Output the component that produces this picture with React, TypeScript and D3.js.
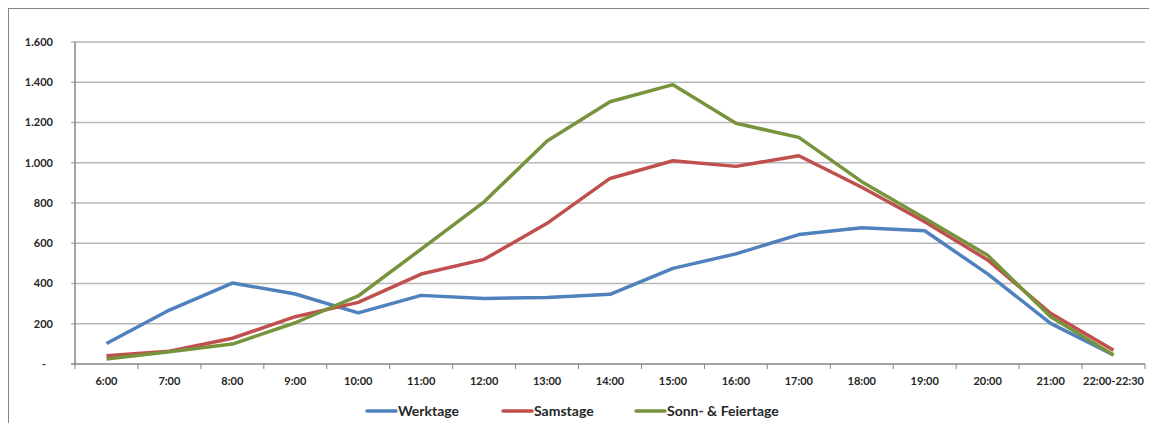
import React from "react";
import * as d3 from "d3";

const categories = ["6:00","7:00","8:00","9:00","10:00","11:00","12:00","13:00","14:00","15:00","16:00","17:00","18:00","19:00","20:00","21:00","22:00-22:30"];
const werktage = [102, 268, 402, 348, 254, 341, 326, 331, 346, 475, 547, 643, 677, 662, 448, 202, 45];
const samstage = [41, 63, 128, 235, 306, 447, 520, 699, 922, 1010, 982, 1035, 878, 707, 517, 252, 68];
const sonntage = [25, 61, 99, 205, 338, 571, 806, 1108, 1303, 1388, 1196, 1126, 906, 724, 540, 235, 45];
const yTicks = [0, 200, 400, 600, 800, 1000, 1200, 1400, 1600];
const seriesNames = ["Werktage", "Samstage", "Sonn- & Feiertage"];
const colors = ["#4F81BD", "#C0504D", "#77933C"];

const W = 1149, H = 423;
const left = 75, right = 1145, top = 42, bottom = 364;
const font = "Lato, 'Open Sans', sans-serif";

export default function App() {
  const x = d3.scaleBand().domain(categories).range([left, right]);
  const y = d3.scaleLinear().domain([0, 1600]).range([bottom, top]);
  const fmt = (v: number) => (v === 0 ? "-" : d3.format(",")(v).replace(/,/g, "."));
  const line = d3.line<number>().x((_, i) => (x(categories[i]) as number) + x.bandwidth() / 2).y((v) => y(v));
  const series = [werktage, samstage, sonntage];
  const legendX = [367, 503, 636];
  return (
    <svg width={W} height={H} style={{ position: "absolute", left: 0, top: 0, background: "#fff" }} fontFamily={font}>
      <rect x={8.5} y={8.5} width={W + 20} height={H + 20} fill="#fff" stroke="#868686" strokeWidth={1} />
      {yTicks.map((t) => (
        <g key={t}>
          <line x1={left - 4} x2={right} y1={y(t)} y2={y(t)} stroke={t === 0 ? "#868686" : "#B7B7B7"} strokeWidth={1.5} />
          <text x={t === 0 ? 46 : 53} y={y(t)} dy="0.35em" textAnchor="end" fontSize={11} fontWeight="bold" fill="#262626">{fmt(t)}</text>
        </g>
      ))}
      <line x1={left} x2={left} y1={top} y2={bottom} stroke="#868686" strokeWidth={1.5} />
      {categories.map((c, i) => (
        <g key={c}>
          <line x1={(x(c) as number) + x.bandwidth()} x2={(x(c) as number) + x.bandwidth()} y1={bottom} y2={bottom + 5} stroke="#868686" strokeWidth={1} />
          <text x={(x(c) as number) + x.bandwidth() / 2} y={381} dy="0.35em" textAnchor="middle" fontSize={11} fontWeight="bold" fill="#262626">{c}</text>
        </g>
      ))}
      <line x1={left} x2={left} y1={bottom} y2={bottom + 5} stroke="#868686" strokeWidth={1} />
      {series.map((s, i) => (
        <path key={i} d={line(s) || ""} fill="none" stroke={colors[i]} strokeWidth={3.5} strokeLinejoin="round" />
      ))}
      {seriesNames.map((n, i) => (
        <g key={n}>
          <line x1={legendX[i]} x2={legendX[i] + 29} y1={411} y2={411} stroke={colors[i]} strokeWidth={3.5} strokeLinecap="round" />
          <text x={legendX[i] + 31} y={411} dy="0.35em" fontSize={14} fontWeight="bold" fill="#262626">{n}</text>
        </g>
      ))}
    </svg>
  );
}
